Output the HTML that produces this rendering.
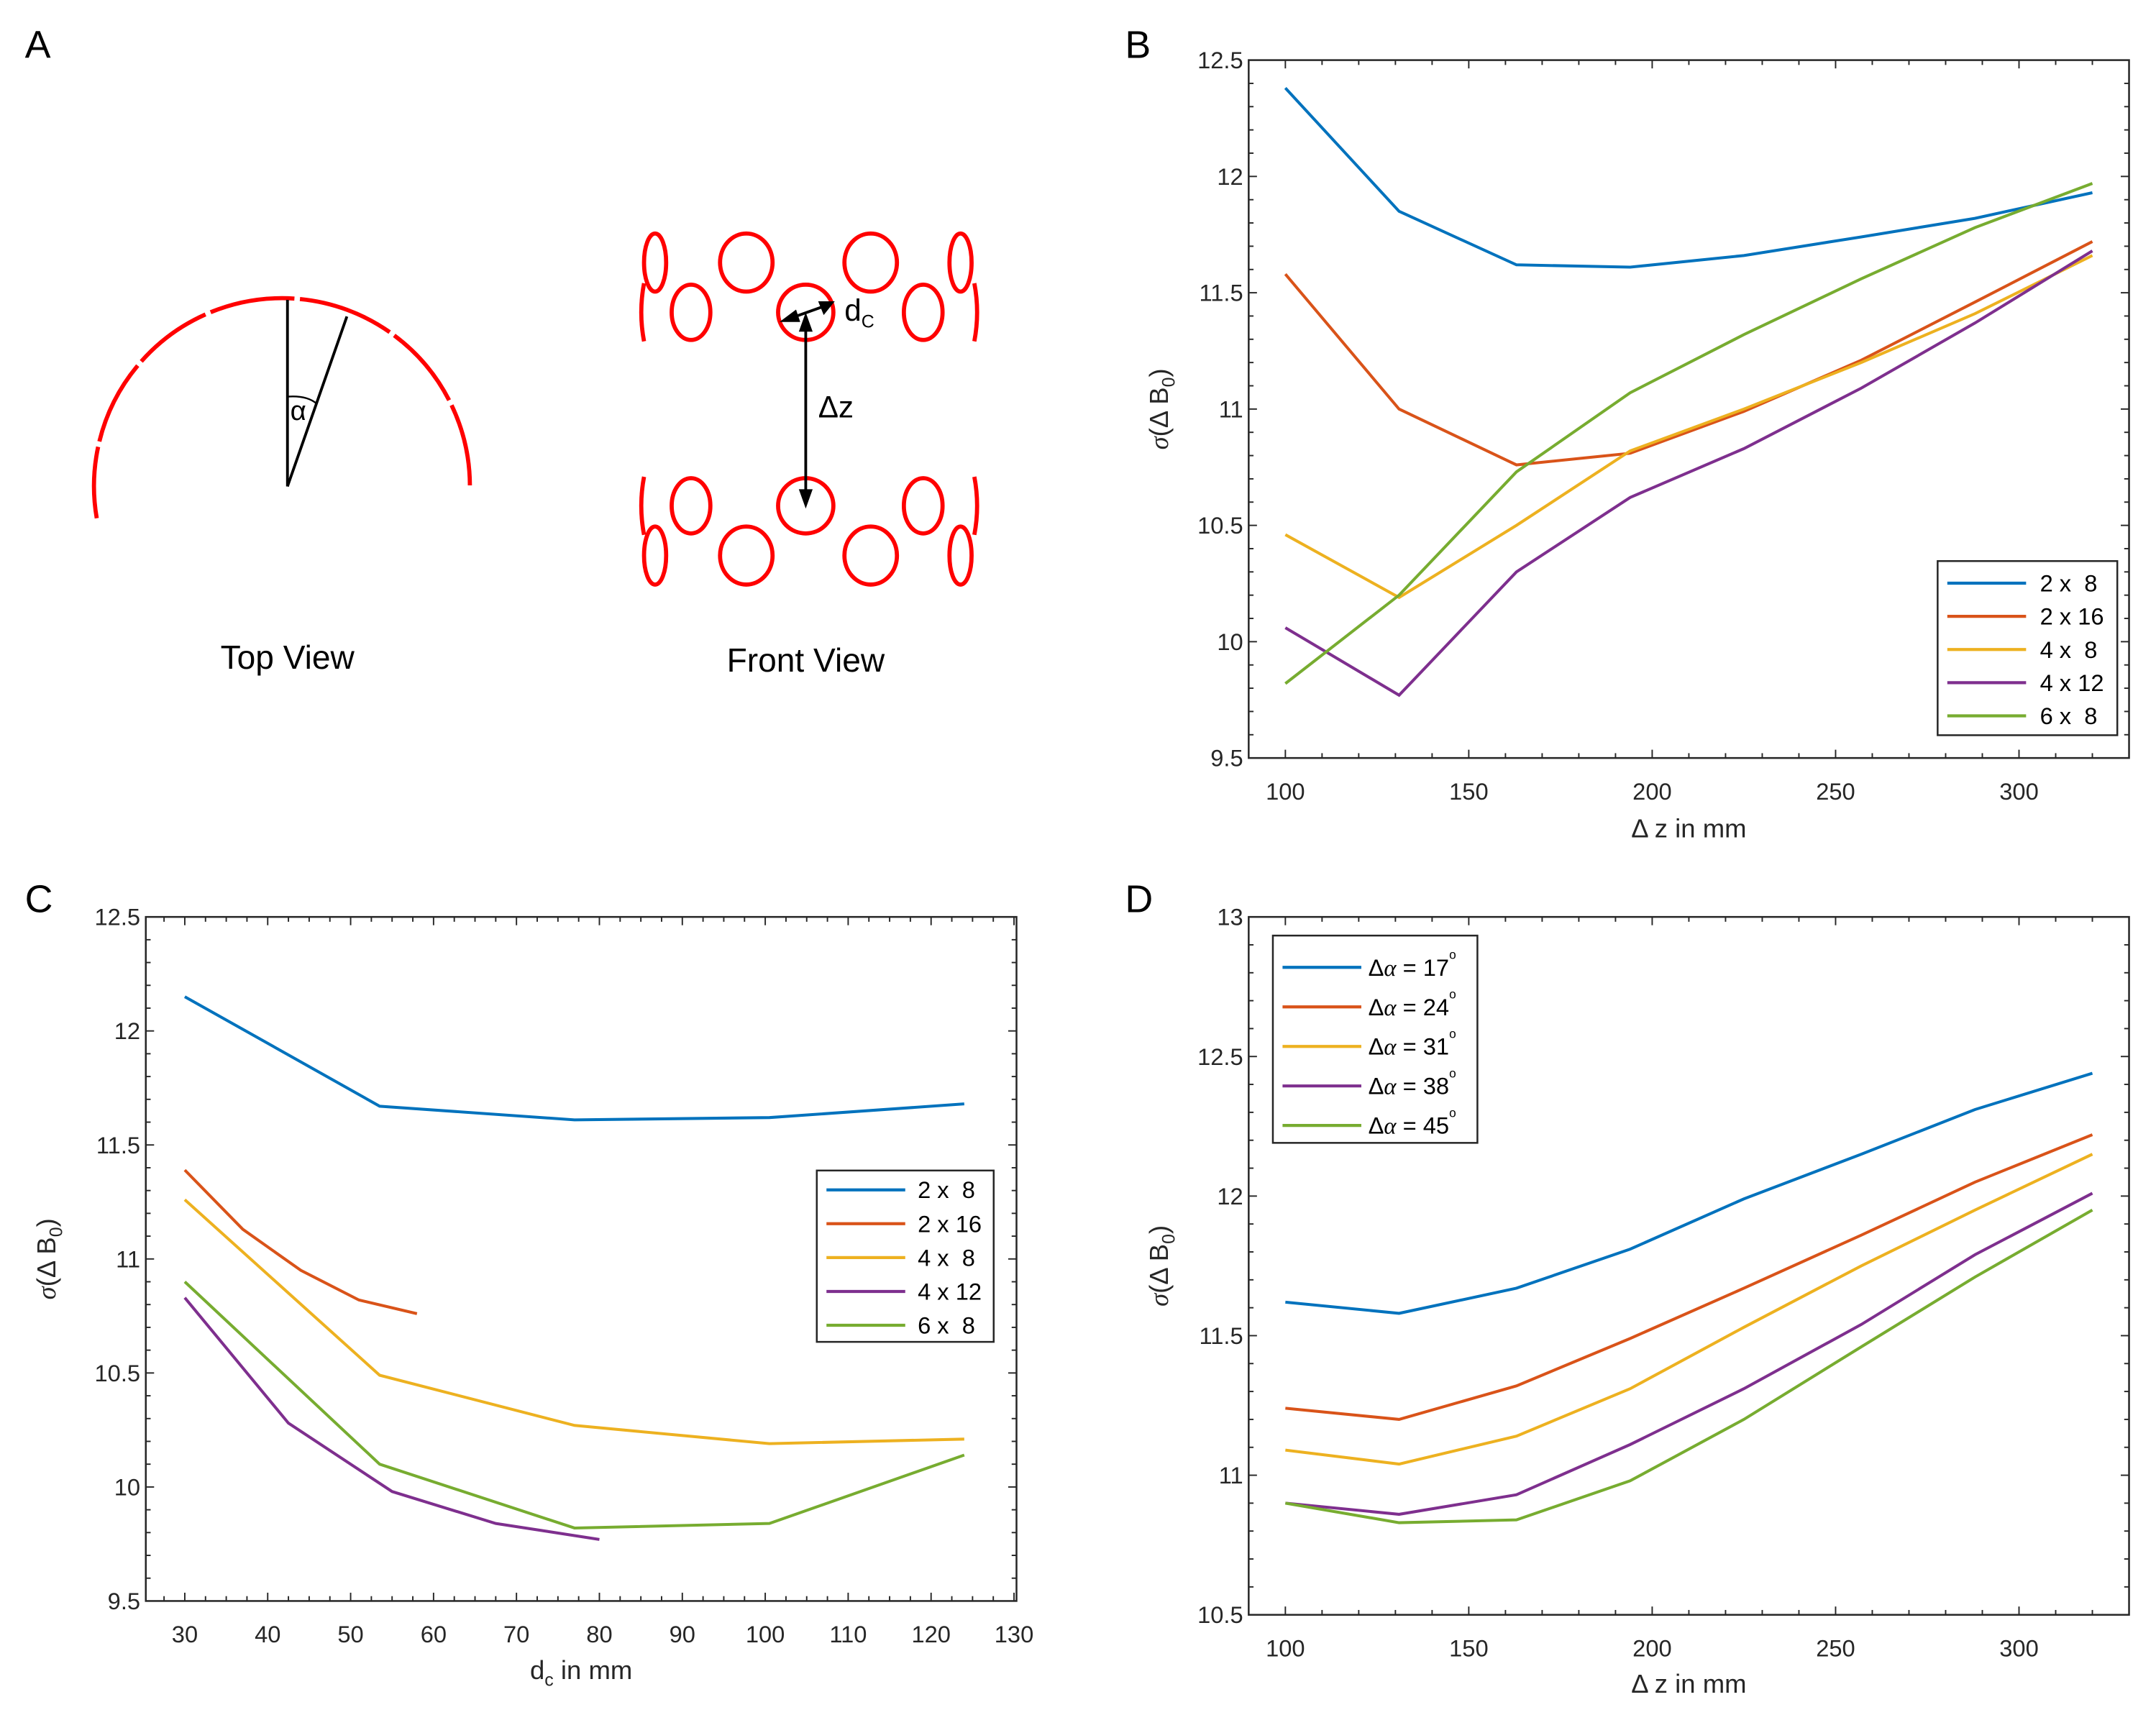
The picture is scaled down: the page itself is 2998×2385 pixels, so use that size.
<!DOCTYPE html>
<html><head><meta charset="utf-8">
<style>
html,body{margin:0;padding:0;background:#fff;}
svg{display:block;}
text{font-family:"Liberation Sans",sans-serif;}
</style></head>
<body>
<svg id="fig" width="2998" height="2385" viewBox="0 0 1560 1241" preserveAspectRatio="none" xmlns="http://www.w3.org/2000/svg">
<rect width="1560" height="1241" fill="#fff"/>
<!-- Panel A -->
<g>
<text x="18" y="42" font-size="28">A</text>
<g fill="none">
<path d="M70,375 A136,136 0 1 1 338,375" stroke="red" stroke-width="3" stroke-dasharray="52,4,62,4,58,4,62,4,70,4,62,4,60"/>
<line x1="208" y1="217" x2="208" y2="352" stroke="#000" stroke-width="2"/>
<line x1="208" y1="352" x2="251" y2="229" stroke="#000" stroke-width="2"/>
<path d="M208,287 Q222,286 229,292" stroke="#000" stroke-width="1.2"/>
<text x="210" y="304" font-size="20" font-family="Liberation Serif" fill="#000" stroke="none">α</text>
</g>
<text x="208" y="484" font-size="24" text-anchor="middle">Top View</text>
<g fill="none" stroke="red" stroke-width="3">
<ellipse cx="474" cy="190" rx="8" ry="21"/><ellipse cx="540" cy="190" rx="19" ry="21"/><ellipse cx="630" cy="190" rx="19" ry="21"/><ellipse cx="695" cy="190" rx="8" ry="21"/>
<ellipse cx="500" cy="226" rx="14" ry="20"/><ellipse cx="583" cy="226" rx="20" ry="20"/><ellipse cx="668" cy="226" rx="14" ry="20"/>
<path d="M466,205 Q462,226 466,247"/><path d="M705,205 Q709,226 705,247"/>
<ellipse cx="500" cy="366" rx="14" ry="20"/><ellipse cx="583" cy="366" rx="20" ry="20"/><ellipse cx="668" cy="366" rx="14" ry="20"/>
<ellipse cx="474" cy="402" rx="8" ry="21"/><ellipse cx="540" cy="402" rx="19" ry="21"/><ellipse cx="630" cy="402" rx="19" ry="21"/><ellipse cx="695" cy="402" rx="8" ry="21"/>
<path d="M466,345 Q462,366 466,387"/><path d="M705,345 Q709,366 705,387"/>
</g>
<g stroke="#000" stroke-width="2" fill="#000">
<line x1="583" y1="236" x2="583" y2="358"/>
<polygon points="583,226 578,240 588,240" stroke="none"/>
<polygon points="583,368 578,354 588,354" stroke="none"/>
<line x1="570" y1="231" x2="598" y2="221"/>
<polygon points="564,233 576,224 579,233" stroke="none"/>
<polygon points="604,218 592,218 596,228" stroke="none"/>
</g>
<text x="611" y="232" font-size="22" font-family="Liberation Serif">d<tspan font-size="13" dy="5">C</tspan></text>
<text x="592" y="302" font-size="22" font-family="Liberation Serif">Δz</text>
<text x="583" y="486" font-size="24" text-anchor="middle">Front View</text>
</g>
<text x="814" y="42" font-size="28">B</text>
<text x="18" y="660" font-size="28">C</text>
<text x="814" y="660" font-size="28">D</text>
<g id="charts"></g>
</svg>
<script>
const colors = ["#0072BD","#D95319","#EDB120","#7E2F8E","#77AC30"];
// Panel B data
const bX = [100,131,163,194,225,257,288,320];
const bNames = ["2 x  8","2 x 16","4 x  8","4 x 12","6 x  8"];
const b2x8 = [12.38,11.85,11.62,11.61,11.66,11.74,11.82,11.93];
const b2x16 = [11.58,11.0,10.76,10.81,10.99,11.21,11.46,11.72];
const b4x8 = [10.46,10.19,10.5,10.82,11.0,11.2,11.41,11.66];
const b4x12 = [10.06,9.77,10.3,10.62,10.83,11.09,11.37,11.68];
const b6x8 = [9.82,10.2,10.73,11.07,11.32,11.56,11.78,11.97];
const bXTicks = [100,150,200,250,300];
const bYTicks = [9.5,10,10.5,11,11.5,12,12.5];
// Panel C data
const cX5 = [30,53.5,77,100.5,124];
const cX2x16 = [30,37,44,51,58];
const cX4x12 = [30,42.5,55,67.5,80];
const c2x8 = [12.15,11.67,11.61,11.62,11.68];
const c2x16 = [11.39,11.13,10.95,10.82,10.76];
const c4x8 = [11.26,10.49,10.27,10.19,10.21];
const c4x12 = [10.83,10.28,9.98,9.84,9.77];
const c6x8 = [10.9,10.1,9.82,9.84,10.14];
const cXTicks = [30,40,50,60,70,80,90,100,110,120,130];
const cYTicks = [9.5,10,10.5,11,11.5,12,12.5];
// Panel D data
const dX = [100,131,163,194,225,257,288,320];
const dNames = ["17","24","31","38","45"];
const d17 = [11.62,11.58,11.67,11.81,11.99,12.15,12.31,12.44];
const d24 = [11.24,11.2,11.32,11.49,11.67,11.86,12.05,12.22];
const d31 = [11.09,11.04,11.14,11.31,11.53,11.75,11.95,12.15];
const d38 = [10.9,10.86,10.93,11.11,11.31,11.54,11.79,12.01];
const d45 = [10.9,10.83,10.84,10.98,11.2,11.46,11.71,11.95];
const dXTicks = [100,150,200,250,300];
const dYTicks = [10.5,11,11.5,12,12.5,13];

const NS="http://www.w3.org/2000/svg";
const root=document.getElementById('charts');
function mk(tag,attrs,parent){const e=document.createElementNS(NS,tag);for(const k in attrs)e.setAttribute(k,attrs[k]);(parent||root).appendChild(e);return e;}

function chart(cfg){
  const g=mk('g',{});
  
  
  const {L,R,T,B,x0,x1,y0,y1}=cfg;
  const sx=v=>L+(v-x0)/(x1-x0)*(R-L);
  const sy=v=>B-(v-y0)/(y1-y0)*(B-T);
  for(let v=cfg.xMinStart; v<=x1+1e-6; v+=cfg.xMinor){
    const X=sx(v); if(X<L+0.5||X>R-0.5) continue;
    const major=cfg.xTicks.some(t=>Math.abs(t-v)<1e-6); const len=major?6:3.5;
    mk('line',{x1:X,y1:B,x2:X,y2:B-len,stroke:'#262626','stroke-width':1},g);
    mk('line',{x1:X,y1:T,x2:X,y2:T+len,stroke:'#262626','stroke-width':1},g);
  }
  for(let v=y0; v<=y1+1e-6; v+=cfg.yMinor){
    const Y=sy(v); if(Y<T+0.5||Y>B-0.5) continue;
    const major=cfg.yTicks.some(t=>Math.abs(t-v)<1e-6); const len=major?6:3.5;
    mk('line',{x1:L,y1:Y,x2:L+len,y2:Y,stroke:'#262626','stroke-width':1},g);
    mk('line',{x1:R,y1:Y,x2:R-len,y2:Y,stroke:'#262626','stroke-width':1},g);
  }
  cfg.xTicks.forEach(t=>{
    const e=mk('text',{x:sx(t),y:B+30,'font-size':17,'text-anchor':'middle',fill:'#262626'},g);
    
    
    e.textContent=t;
  });
  cfg.yTicks.forEach(t=>{
    const e=mk('text',{x:L-4,y:sy(t)+6,'font-size':17,'text-anchor':'end',fill:'#262626'},g);
    
    
    e.textContent=t;
  });
  cfg.series.forEach((s,i)=>{
    const pts=s.x.map((xv,j)=>sx(xv).toFixed(2)+','+sy(s.y[j]).toFixed(2)).join(' ');
    const p=mk('polyline',{points:pts,fill:'none',stroke:colors[i],'stroke-width':2.1},g);
    
    
  });
  const frame=mk('rect',{x:L,y:T,width:R-L,height:B-T,fill:'none',stroke:'#262626','stroke-width':1.3},g);
  
  
  const xl=mk('text',{x:(L+R)/2,y:cfg.xlY,'font-size':19,'text-anchor':'middle',fill:'#262626'},g);
  
  
  xl.innerHTML=cfg.xlabel;
  const yl=mk('text',{x:0,y:0,'font-size':19,'text-anchor':'middle',fill:'#262626',transform:`translate(${cfg.ylX},${(T+B)/2}) rotate(-90)`},g);
  
  
  yl.innerHTML='<tspan font-family="Liberation Serif" font-style="italic">σ</tspan>(Δ B<tspan font-size="13" dy="5">0</tspan><tspan dy="-5">)</tspan>';
  const lg=cfg.legend;
  const lgG=mk('g',{},g);
  
  
  mk('rect',{x:lg.x,y:lg.y,width:lg.w,height:lg.h,fill:'#fff',stroke:'#262626','stroke-width':1.3},lgG);
  cfg.series.forEach((s,i)=>{
    const yy=lg.y0+i*lg.dy;
    const ln=mk('line',{x1:lg.x+7,y1:yy,x2:lg.x+64,y2:yy,stroke:colors[i],'stroke-width':2.2},lgG);
    
    
    const t=mk('text',{x:lg.x+lg.tx,y:yy+6,'font-size':17,fill:'#000'},lgG);
    
    
    t.innerHTML=s.label;
  });
}

chart({name:'chart-b',L:903.5,R:1540.5,T:43.5,B:548.5,x0:90,x1:330,y0:9.5,y1:12.5,
  xTicks:bXTicks,yTicks:bYTicks,xMinor:10,xMinStart:90,yMinor:0.1,
  xlabel:'Δ z in mm',xlY:606,ylX:845,
  series:[{key:'2x8',x:bX,y:b2x8,label:bNames[0]},{key:'2x16',x:bX,y:b2x16,label:bNames[1]},{key:'4x8',x:bX,y:b4x8,label:bNames[2]},{key:'4x12',x:bX,y:b4x12,label:bNames[3]},{key:'6x8',x:bX,y:b6x8,label:bNames[4]}].map(s=>({...s,label:s.label.replace(/ /g,'&#160;')})),
  legend:{x:1402,y:406,w:130,h:126,y0:422,dy:24,tx:74}});

chart({name:'chart-c',L:105.5,R:735.5,T:663.5,B:1158.5,x0:25.3,x1:130.3,y0:9.5,y1:12.5,
  xTicks:cXTicks,yTicks:cYTicks,xMinor:2.5,xMinStart:25,yMinor:0.1,
  xlabel:'d<tspan font-size="13" dy="5">c</tspan><tspan dy="-5"> in mm</tspan>',xlY:1215,ylX:40,
  series:[{key:'2x8',x:cX5,y:c2x8,label:bNames[0]},{key:'2x16',x:cX2x16,y:c2x16,label:bNames[1]},{key:'4x8',x:cX5,y:c4x8,label:bNames[2]},{key:'4x12',x:cX4x12,y:c4x12,label:bNames[3]},{key:'6x8',x:cX5,y:c6x8,label:bNames[4]}].map(s=>({...s,label:s.label.replace(/ /g,'&#160;')})),
  legend:{x:591,y:847,w:128,h:124,y0:861,dy:24.5,tx:73}});

chart({name:'chart-d',L:903.5,R:1540.5,T:663.5,B:1168.5,x0:90,x1:330,y0:10.5,y1:13,
  xTicks:dXTicks,yTicks:dYTicks,xMinor:10,xMinStart:90,yMinor:0.1,
  xlabel:'Δ z in mm',xlY:1225,ylX:845,
  series:[d17,d24,d31,d38,d45].map((arr,i)=>({key:'alpha-'+dNames[i],x:dX,y:arr,label:'Δ<tspan font-family="Liberation Serif" font-style="italic">α</tspan> = '+dNames[i]+'<tspan font-size="9" dy="-12">o</tspan>'})),
  legend:{x:921,y:677,w:148,h:150,y0:700,dy:28.6,tx:69}});
</script>
</body></html>
